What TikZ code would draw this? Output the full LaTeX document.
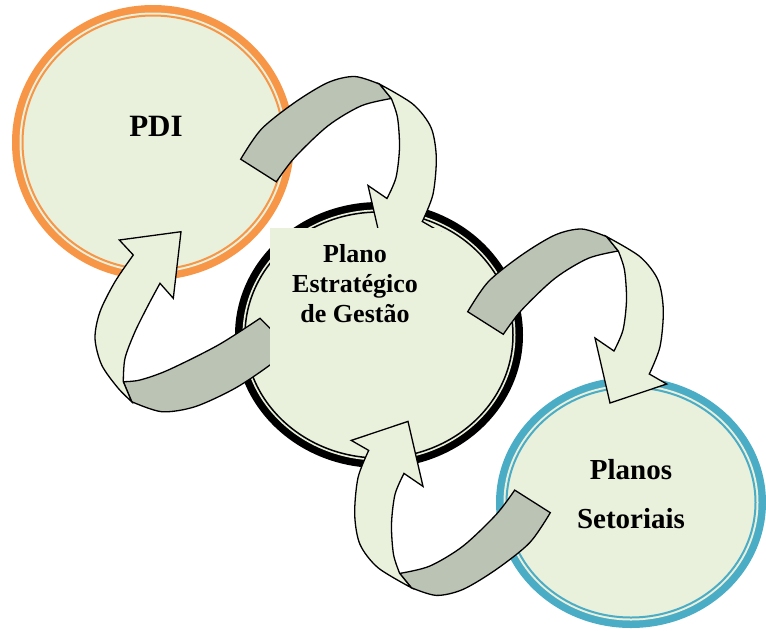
\documentclass[tikz,border=0pt]{standalone}
\usepackage{fontspec}
\setmainfont{Liberation Serif}
\definecolor{ringorange}{HTML}{F79646}
\definecolor{ringblue}{HTML}{4BACC6}
\definecolor{discfill}{HTML}{E9F0DC}
\definecolor{bandgrey}{HTML}{BBC3B4}
\tikzset{
  ribbonback/.style={fill=bandgrey, draw=black, line width=1.3},
  ribbonfront/.style={fill=discfill, draw=black, line width=1.3},
  label/.style={font=\bfseries, align=center, anchor=base, inner sep=0},
}
% one twisted arrow (the one from the centre to Planos Setoriais)
\newcommand{\ribbonarrow}{%
  \filldraw[ribbonback] plot[smooth] coordinates {(467.7,311.7) (488.3,281.7) (521.7,255) (555,235) (581.7,229) (606.7,236.7)}
    -- plot[smooth] coordinates {(618.3,251) (588.3,258.3) (555,278.3) (521.7,310) (503.3,334.3)} -- cycle;
  \filldraw[ribbonfront] plot[smooth] coordinates {(606.7,236.7) (640,256.7) (658,280) (663.3,310) (660,346.7) (649.3,374)}
    -- (666.7,384) -- (610,403) -- (595,338)
    -- plot[smooth] coordinates {(614,351) (623,330) (626.5,300) (624.5,270) (618.3,251)} -- cycle;
}
\begin{document}
\begin{tikzpicture}[x=1pt, y=-1pt]
\useasboundingbox (0,0) rectangle (766,630);

% PDI
\fill[ringorange] (153,142.5) ellipse [x radius=141, y radius=137.5];
\fill[discfill] (153,142.5) ellipse [x radius=133.5, y radius=130];
\draw[ringorange, line width=2] (153,142.5) ellipse [x radius=130.5, y radius=127];

% plano estrategico
\fill[black] (379,335) ellipse [x radius=144, y radius=133];
\fill[discfill] (379,335) ellipse [x radius=136.5, y radius=125.5];
\draw[black, line width=1.5] (379,335) ellipse [x radius=134, y radius=123];

% planos setoriais
\fill[ringblue] (631,502.5) ellipse [x radius=135, y radius=125.5];
\fill[discfill] (631,502.5) ellipse [x radius=127.5, y radius=118];
\draw[ringblue, line width=2] (631,502.5) ellipse [x radius=124.5, y radius=115];

% arrows
\begin{scope}[shift={(-227,-152.5)}]
\ribbonarrow
\end{scope}
\ribbonarrow
\begin{scope}[rotate around={180:(509,412.2)}]
\ribbonarrow
\end{scope}
\filldraw[ribbonback] plot[smooth] coordinates {(260,318.3) (218.3,345) (168.3,370) (140,380) (123.3,381.7)}
  -- plot[smooth] coordinates {(131.7,401.7) (161.7,411.7) (195,406.7) (235,388.3) (270,365) (290,348)} -- cycle;
\filldraw[ribbonfront] plot[smooth] coordinates {(131.7,401.7) (118,388) (101.7,365) (95,338.3) (100,311.7) (115,281.7) (133.3,255)}
  -- (119.3,240) -- (181,231.7) -- (173.3,298.3)
  -- plot[smooth] coordinates {(160,283.3) (148.3,305) (135,331.7) (125,358.3) (123.3,381.7)} -- cycle;

% text box
\fill[discfill] (270,228) rectangle (441,370);

\node[label, font=\fontsize{31}{37}\selectfont\bfseries] (pdi) at (156,136) {PDI};
\node[label, font=\fontsize{26}{30.2}\selectfont\bfseries] (peg) at (355,322.7) {Plano\\Estratégico\\de Gestão};
\node[label, font=\fontsize{29}{49}\selectfont\bfseries] (setoriais) at (631,528) {Planos\\Setoriais};
\end{tikzpicture}
\end{document}
